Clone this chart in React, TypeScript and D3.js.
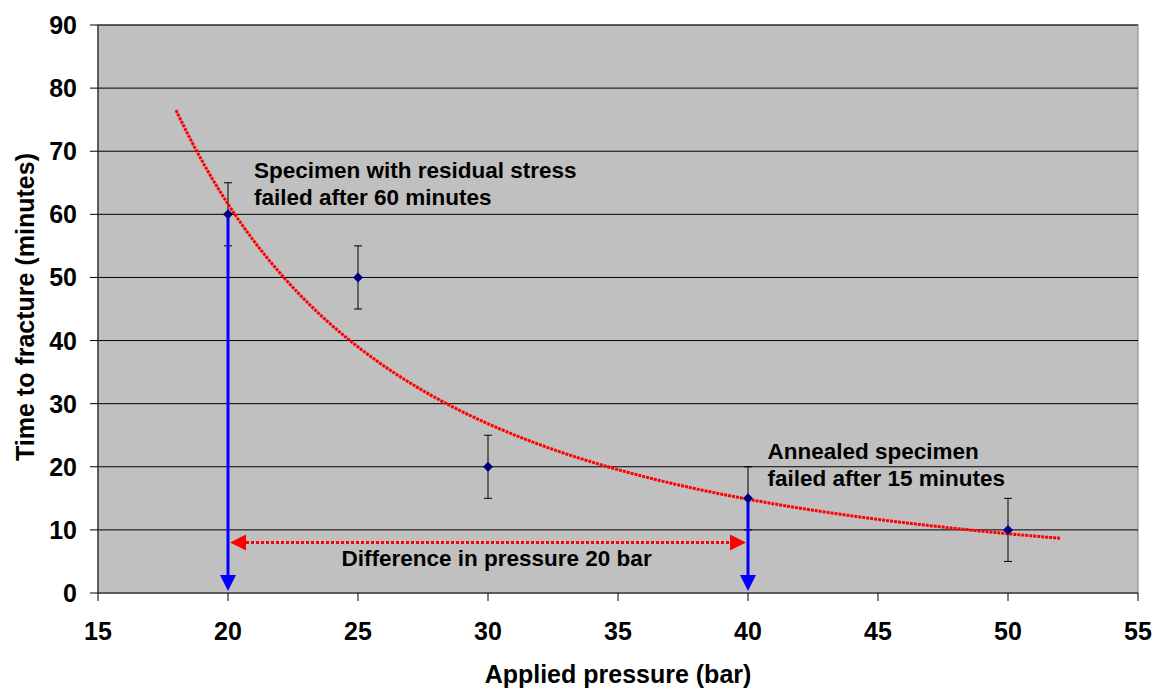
import React from "react";
import * as d3 from "d3";

const pressures = [20, 25, 30, 40, 50];
const times = [60, 50, 20, 15, 10];
const errors = [5, 5, 5, 5, 5];
const xTicks = [15, 20, 25, 30, 35, 40, 45, 50, 55];
const yTicks = [0, 10, 20, 30, 40, 50, 60, 70, 80, 90];
const trendRange = [18, 52];
const arrowPoints = [
  { x: 20, y: 60 },
  { x: 40, y: 15 },
];
const diffArrow = { x1: 20, x2: 40, y: 8 };
const notes = [
  { x: 21, y: 65.8, lines: ["Specimen with residual stress", "failed after 60 minutes"] },
  { x: 40.75, y: 21.2, lines: ["Annealed specimen", "failed after 15 minutes"] },
];
const diffLabel = { x: 30.33, y: 4.3, text: "Difference in pressure 20 bar" };

const W = 1160;
const H = 689;
const M = { left: 98, right: 1138, top: 25, bottom: 593 };

export default function App() {
  const x = d3.scaleLinear().domain([15, 55]).range([M.left, M.right]);
  const y = d3.scaleLinear().domain([0, 90]).range([M.bottom, M.top]);

  // power-law trendline fit (least squares in log-log space)
  const lx = pressures.map(Math.log);
  const ly = times.map(Math.log);
  const mx = d3.mean(lx)!;
  const my = d3.mean(ly)!;
  const b = d3.sum(lx.map((v, i) => (v - mx) * (ly[i] - my))) / d3.sum(lx.map((v) => (v - mx) ** 2));
  const a = Math.exp(my - b * mx);
  const trend = d3.range(trendRange[0], trendRange[1] + 0.001, 0.1).map((p) => [p, a * Math.pow(p, b)] as [number, number]);
  const line = d3.line<[number, number]>().x((d) => x(d[0])).y((d) => y(d[1]));

  const font = "Arial, 'Liberation Sans', sans-serif";
  const ah = 18; // arrowhead length
  const aw = 8; // arrowhead half width

  return (
    <svg width={W} height={H} style={{ position: "absolute", left: 0, top: 0 }} fontFamily={font}>
      <rect x={M.left} y={M.top} width={M.right - M.left} height={M.bottom - M.top} fill="#C0C0C0" stroke="#808080" strokeWidth={1} />
      {yTicks.filter((t) => t > 0).map((t) => (
        <line key={t} x1={M.left} x2={M.right} y1={y(t)} y2={y(t)} stroke="#000" strokeWidth={1} />
      ))}
      {/* axes */}
      <line x1={M.left} x2={M.left} y1={M.top} y2={M.bottom} stroke="#404040" strokeWidth={1.5} />
      <line x1={M.left} x2={M.right} y1={M.bottom} y2={M.bottom} stroke="#404040" strokeWidth={1.5} />
      {yTicks.map((t) => (
        <g key={t}>
          <line x1={M.left - 8} x2={M.left} y1={y(t)} y2={y(t)} stroke="#000" />
          <text x={77} y={y(t)} dy="0.36em" textAnchor="end" fontSize={25} fontWeight="bold">{t}</text>
        </g>
      ))}
      {xTicks.map((t) => (
        <g key={t}>
          <line x1={x(t)} x2={x(t)} y1={M.bottom} y2={M.bottom + 8} stroke="#000" />
          <text x={x(t)} y={640} textAnchor="middle" fontSize={25} fontWeight="bold">{t}</text>
        </g>
      ))}
      <text x={618} y={683} textAnchor="middle" fontSize={25} fontWeight="bold">Applied pressure (bar)</text>
      <text transform={`translate(34,307) rotate(-90)`} textAnchor="middle" fontSize={25} fontWeight="bold">Time to fracture (minutes)</text>

      {/* error bars */}
      {pressures.map((p, i) => (
        <g key={p} stroke="#000" strokeWidth={1}>
          <line x1={x(p)} x2={x(p)} y1={y(times[i] + errors[i])} y2={y(times[i] - errors[i])} />
          <line x1={x(p) - 4} x2={x(p) + 4} y1={y(times[i] + errors[i])} y2={y(times[i] + errors[i])} />
          <line x1={x(p) - 4} x2={x(p) + 4} y1={y(times[i] - errors[i])} y2={y(times[i] - errors[i])} />
        </g>
      ))}

      {/* blue arrows */}
      {arrowPoints.map((pt) => (
        <g key={pt.x}>
          <line x1={x(pt.x)} x2={x(pt.x)} y1={y(pt.y)} y2={y(0) - ah} stroke="#0000FF" strokeWidth={3} />
          <path d={`M${x(pt.x) - aw},${y(0) - ah} L${x(pt.x) + aw},${y(0) - ah} L${x(pt.x)},${y(0) - 2} Z`} fill="#0000FF" />
        </g>
      ))}

      {/* trendline */}
      <path d={line(trend)!} fill="none" stroke="#FF0000" strokeWidth={3} strokeDasharray="3 1" />

      {/* markers */}
      {pressures.map((p, i) => (
        <path key={p} d={`M${x(p)},${y(times[i]) - 5} L${x(p) + 5},${y(times[i])} L${x(p)},${y(times[i]) + 5} L${x(p) - 5},${y(times[i])} Z`} fill="#000080" />
      ))}

      {/* difference arrow */}
      <line x1={x(diffArrow.x1) + ah} x2={x(diffArrow.x2) - ah} y1={y(diffArrow.y)} y2={y(diffArrow.y)} stroke="#FF0000" strokeWidth={3} strokeDasharray="3 2" />
      <path d={`M${x(diffArrow.x1) + 2},${y(diffArrow.y)} L${x(diffArrow.x1) + ah},${y(diffArrow.y) - aw} L${x(diffArrow.x1) + ah},${y(diffArrow.y) + aw} Z`} fill="#FF0000" />
      <path d={`M${x(diffArrow.x2) - 2},${y(diffArrow.y)} L${x(diffArrow.x2) - ah},${y(diffArrow.y) - aw} L${x(diffArrow.x2) - ah},${y(diffArrow.y) + aw} Z`} fill="#FF0000" />

      {/* annotations */}
      {notes.map((n, i) => (
        <text key={i} x={x(n.x)} y={y(n.y)} fontSize={22.5} fontWeight="bold">
          {n.lines.map((l, j) => (
            <tspan key={j} x={x(n.x)} dy={j === 0 ? 0 : 27}>{l}</tspan>
          ))}
        </text>
      ))}
      <text x={x(diffLabel.x)} y={y(diffLabel.y)} textAnchor="middle" fontSize={22.5} fontWeight="bold">{diffLabel.text}</text>
    </svg>
  );
}
